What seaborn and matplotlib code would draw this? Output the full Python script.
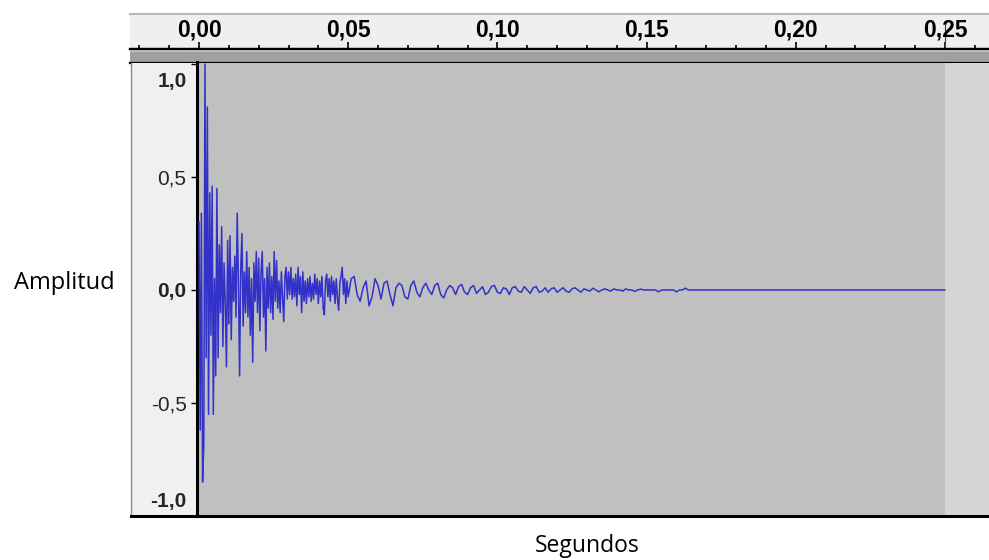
import numpy as np
import pandas as pd
import matplotlib
matplotlib.use("Agg")
import matplotlib.pyplot as plt
import seaborn as sns
from matplotlib.transforms import ScaledTranslation, blended_transform_factory

sns.set_style("white")
plt.rcParams['font.family'] = ['Liberation Sans', 'DejaVu Sans']

# ---------------- data ----------------
seg_a_start = 0.0
seg_a_step = 0.0004
seg_a_values = [
    0.30, -0.62, 0.34, -0.85, -0.69, 1.00, -0.30, 0.81, -0.55, 0.43,
    -0.20, 0.46, -0.55, 0.05, -0.38, 0.45, -0.30, 0.20, -0.10, 0.28,
    -0.25, 0.12, -0.05, -0.34, 0.22, -0.15, 0.24, -0.22, 0.10, -0.05,
    0.15, -0.12, 0.34, 0.05, -0.38, 0.10, 0.25, -0.16, 0.08, -0.10,
    0.17, -0.12, 0.10, -0.20, 0.05, -0.32, 0.12, -0.05, 0.17, -0.10,
    0.14, -0.18, 0.08, 0.17, -0.12, 0.05, -0.27, 0.10, -0.08, 0.12,
    -0.10, 0.06, -0.13, 0.17, -0.05, 0.13, -0.08, 0.04, -0.10, 0.08,
    -0.03, -0.14, 0.06, 0.10, -0.04, 0.08, -0.02, 0.10, -0.04, 0.05,
    -0.03, 0.07, -0.07, 0.10, -0.02, 0.06, -0.10, 0.08, -0.05, 0.04,
    -0.06, 0.05, -0.03, 0.06, -0.05, 0.03, -0.04, 0.07, -0.02, 0.05,
    -0.06, 0.04, -0.03, 0.06, -0.08, -0.11, 0.04, 0.07, -0.03, 0.05,
    -0.05, 0.06, -0.02, 0.04, -0.06, 0.05, -0.04, -0.09, 0.03, 0.06,
    0.10, -0.02, 0.05, -0.06, 0.04, -0.03,
]
seg_b_start = 0.051
seg_b_step = 0.001
seg_b_values = [
    0.05, 0.06, -0.02, -0.05, 0.01, 0.04, -0.07, -0.03, 0.05, 0.02,
    -0.04, 0.03, 0.04, -0.02, -0.07, 0.01, 0.03, 0.02, -0.03, -0.04,
    0.02, 0.04, -0.01, -0.03, 0.01, 0.03, 0.00, -0.02, 0.02, 0.03,
    -0.02, -0.035, 0.00, 0.02, 0.01, -0.02, 0.015, 0.025, -0.01, -0.02,
    0.01, 0.02, -0.015, 0.00, 0.015, -0.02, -0.01, 0.015, 0.02, -0.01,
    -0.015, 0.01, 0.005, -0.02, 0.01, 0.015, -0.005, -0.01, 0.015, 0.0,
    -0.015, 0.01, 0.015, -0.01, -0.005, 0.01, -0.01, 0.005, 0.01, -0.01,
    0.0, 0.01, -0.005, -0.01, 0.005, 0.01, 0.0, -0.01, 0.005, 0.0,
    -0.005, 0.008, 0.0, -0.008, 0.0, 0.005, 0.0, -0.005, 0.005, 0.0,
    0.0, -0.005, 0.005, 0.0, 0.0, -0.006, 0.0, 0.004, 0.0, 0.0,
    0.0, 0.0, 0.0, -0.008, 0.0, 0.0, 0.0, 0.0, 0.0, -0.008,
    0.0, 0.0, 0.008, 0.0, 0.0,
]
tail_times = [0.166, 0.25]
tail_values = [0.0, 0.0]
clip_end = 0.25

ruler_major = [0.00, 0.05, 0.10, 0.15, 0.20, 0.25]
ruler_labels = ['0,00', '0,05', '0,10', '0,15', '0,20', '0,25']
ruler_minor = [-0.02, -0.01, 0.01, 0.02, 0.03, 0.04, 0.06, 0.07, 0.08, 0.09,
               0.11, 0.12, 0.13, 0.14, 0.16, 0.17, 0.18, 0.19, 0.21, 0.22,
               0.23, 0.24, 0.26]
amp_ticks = [-1.0, -0.5, 0.0, 0.5, 1.0]
amp_labels = ['-1,0', '-0,5', '0,0', '0,5', '1,0']
amp_bold = ['-1,0', '0,0', '1,0']
x_label = 'Segundos'
y_label = 'Amplitud'

t_a = seg_a_start + seg_a_step * np.arange(len(seg_a_values))
t_b = seg_b_start + seg_b_step * np.arange(len(seg_b_values))
df = pd.DataFrame({
    'tiempo': np.concatenate([t_a, t_b, tail_times]),
    'amplitud': np.concatenate([seg_a_values, seg_b_values, tail_values]),
})

# ---------------- layout ----------------
W, H = 989, 560
fig = plt.figure(figsize=(W / 100, H / 100), dpi=100)
fig.patch.set_facecolor('white')


def box(l, t, r, b):
    return [l / W, 1 - b / H, (r - l) / W, (b - t) / H]


px0, px_per_s = 199.0, 2984.0
xmin_r = (130 - px0) / px_per_s
xmax = (989 - px0) / px_per_s
xmin_w = (196.5 - px0) / px_per_s

# ruler
ax_r = fig.add_axes(box(130, 14, 989, 48.5))
ax_r.set_facecolor('#efefef')
ax_r.set_yticks([])
for s in ['left', 'right']:
    ax_r.spines[s].set_visible(False)
ax_r.spines['top'].set_color('#b8b8b8')
ax_r.spines['top'].set_linewidth(1.5)
ax_r.spines['bottom'].set_color('black')
ax_r.spines['bottom'].set_linewidth(1.6)
ax_r.set_xticks(ruler_major)
ax_r.set_xticklabels([])
ax_r.set_xticks(ruler_minor, minor=True)
ax_r.tick_params(axis='x', which='major', direction='in', length=5, width=1.2,
                 color='black', bottom=True, labelbottom=False)
ax_r.tick_params(axis='x', which='minor', direction='in', length=2.6, width=1.2,
                 color='black', bottom=True, labelbottom=False)
ax_r.set_xlim(xmin_r, xmax)
ax_r.set_ylim(0, 1)
tr = blended_transform_factory(ax_r.transData, ax_r.transAxes)
for v, lab in zip(ruler_major, ruler_labels):
    ax_r.text(v, 0.35, lab, transform=tr, ha='center', va='baseline',
              fontsize=16.5, fontweight='bold', color='black')
ax_r.axvline(clip_end, ymin=0, ymax=0.8, color='#404040', lw=0.8)

# band under ruler
ax_b = fig.add_axes(box(130, 48.5, 989, 62.5))
ax_b.set_facecolor('#a0a0a0')
ax_b.set_xticks([]); ax_b.set_yticks([])
ax_b.set_ylim(0, 1)
ax_b.axhspan(0.72, 0.88, color='#c4c4c4', lw=0)
for s in ['left', 'right']:
    ax_b.spines[s].set_visible(False)
ax_b.spines['top'].set_linewidth(1.6)
ax_b.spines['top'].set_color('black')
ax_b.spines['bottom'].set_linewidth(1.6)
ax_b.spines['bottom'].set_color('black')

# amplitude panel background
ax_p = fig.add_axes(box(130.5, 62.5, 196.5, 516))
ax_p.set_facecolor('#f0f0f0')
ax_p.set_xticks([]); ax_p.set_yticks([])
for s in ['top', 'right']:
    ax_p.spines[s].set_visible(False)
ax_p.spines['left'].set_color('#8a8a8a')
ax_p.spines['left'].set_linewidth(1.0)
ax_p.spines['bottom'].set_color('black')
ax_p.spines['bottom'].set_linewidth(2.2)

# waveform
ax = fig.add_axes(box(196.5, 62.5, 989, 516))
ax.set_facecolor('#c0c0c0')
ax.axvspan(clip_end, xmax, color='#d6d6d6', lw=0, zorder=0)
sns.lineplot(data=df, x='tiempo', y='amplitud', ax=ax, color='#3232c8',
             lw=1.1, estimator=None, sort=False, zorder=3)
ax.set_xticks([])
ax.set_yticks(amp_ticks)
ax.set_yticklabels(amp_labels)
ax.set_xlim(xmin_w, xmax)
ax.set_ylim(-1.0, 1.0 + 1.5 / 226)
ax.tick_params(axis='y', direction='out', length=4.3, width=1.0, color='black',
               pad=2.9, labelsize=15, left=True)
for lab in ax.get_yticklabels():
    if lab.get_text() in amp_bold:
        lab.set_fontweight('bold')
    if lab.get_text() == '1,0':
        lab.set_transform(lab.get_transform() + ScaledTranslation(0, -0.16, fig.dpi_scale_trans))
    if lab.get_text() == '-1,0':
        lab.set_transform(lab.get_transform() + ScaledTranslation(0, 0.16, fig.dpi_scale_trans))
for s in ['right', 'top']:
    ax.spines[s].set_visible(False)
ax.spines['left'].set_color('black')
ax.spines['left'].set_linewidth(2.2)
ax.spines['bottom'].set_color('black')
ax.spines['bottom'].set_linewidth(2.2)

ax.set_ylabel(y_label, rotation=0, ha='right', va='center', fontsize=17,
              family=['Open Sans', 'DejaVu Sans'], color='black')
ax.yaxis.set_label_coords((115 - 196.5) / 792.5, (516 - 283) / 453.5)
ax.set_xlabel(x_label, ha='center', va='center', fontsize=16.5,
              family=['Open Sans', 'DejaVu Sans'], color='black')
ax.xaxis.set_label_coords((587 - 196.5) / 792.5, (516 - 546) / 453.5)

fig.savefig('out.png', dpi=100, facecolor='white')
